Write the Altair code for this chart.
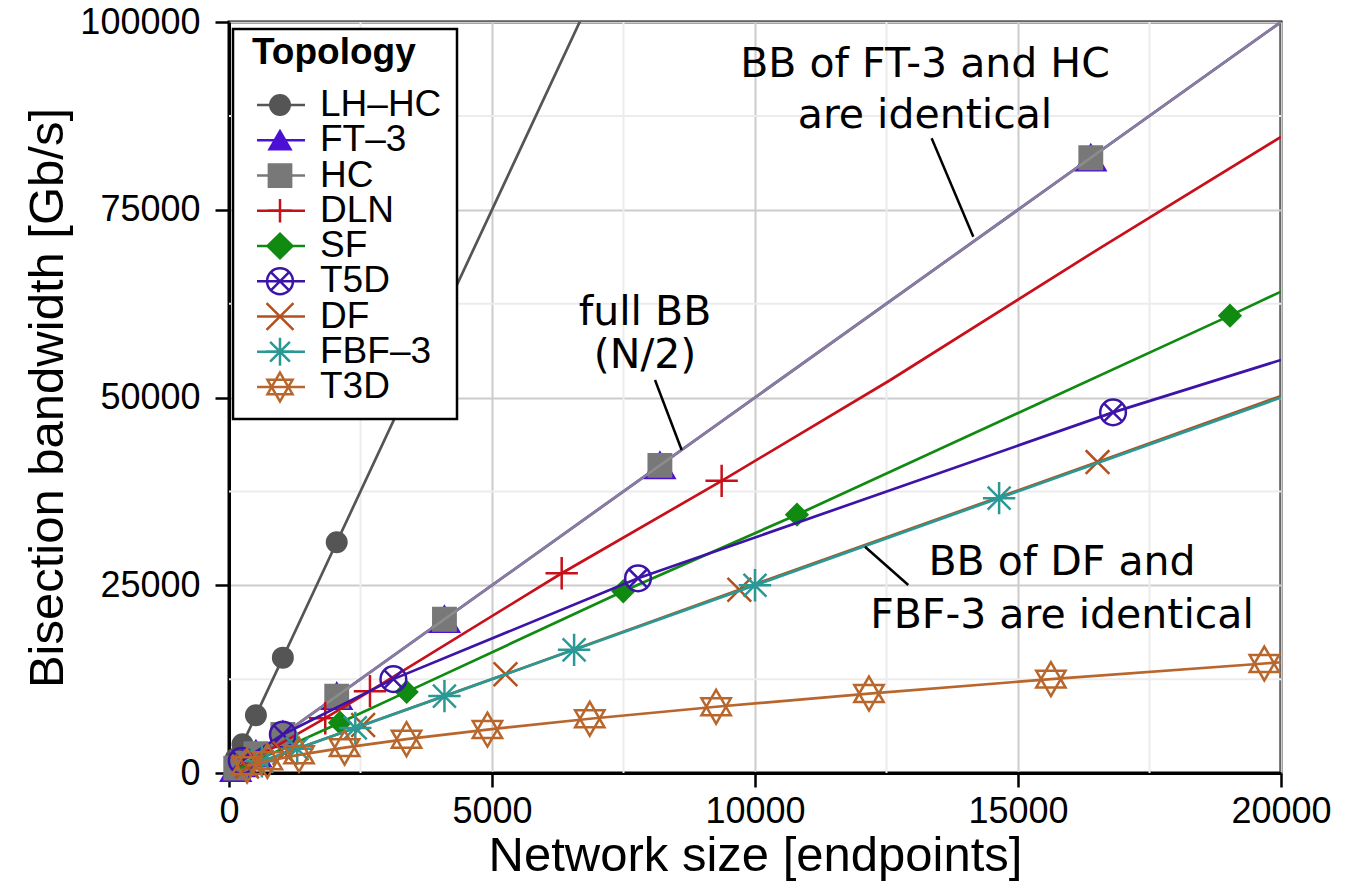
import altair as alt
import pandas as pd

# ---------------- data ----------------
names = ["LH–HC", "FT–3", "HC", "DLN", "SF", "T5D", "DF", "FBF–3", "T3D"]
colors = ["#555555", "#4b10d3", "#787878", "#c8101a", "#108a10",
          "#3c14a8", "#b4501c", "#2a9995", "#b8662c"]

# markers: network size [endpoints], bisection bandwidth [Gb/s]
lhhc_n = [128, 256, 512, 1024, 2048]
lhhc_bb = [1920, 3840, 7680, 15360, 30720]
ft3_n = [128, 256, 512, 1024, 2048, 4096, 8192, 16384]
ft3_bb = [640, 1280, 2560, 5120, 10240, 20480, 40960, 81920]
hc_n = [128, 256, 512, 1024, 2048, 4096, 8192, 16384]
hc_bb = [640, 1280, 2560, 5120, 10240, 20480, 40960, 81920]
dln_n = [1830, 2680, 6325, 9366]
dln_bb = [7300, 10900, 26600, 38900]
sf_n = [2110, 3378, 7496, 10798, 19030]
sf_bb = [6700, 10800, 24200, 34400, 60900]
t5d_n = [243, 1024, 3125, 7776, 16807]
t5d_bb = [1620, 5120, 12500, 25920, 48020]
df_n = [342, 1056, 2550, 5256, 9702, 16512]
df_bb = [860, 2640, 6400, 13150, 24400, 41400]
fbf_n = [625, 1296, 2401, 4096, 6561, 10000, 14641]
fbf_bb = [1560, 3240, 6000, 10240, 16400, 25000, 36600]
t3d_n = [343, 729, 1331, 2197, 3375, 4913, 6859, 9261, 12167, 15625, 19683]
t3d_bb = [980, 1620, 2420, 3380, 4500, 5780, 7220, 8820, 10580, 12500, 14580]

# fitted curves drawn through the whole range
lhhc_line_n = [0, 2048, 8192]
lhhc_line_bb = [0, 30720, 122880]
ft3_line_n = [64, 20000]
ft3_line_bb = [320, 100000]
hc_line_n = [64, 20000]
hc_line_bb = [320, 100000]
dln_line_n = [200, 1830, 2680, 6325, 9366, 12566, 16558, 20000]
dln_line_bb = [800, 7300, 10900, 26600, 38900, 52300, 69900, 84700]
sf_line_n = [200, 2110, 3378, 7496, 10798, 19030, 20000]
sf_line_bb = [640, 6700, 10800, 24200, 34400, 60900, 64100]
t5d_line_n = [243, 1024, 3125, 7776, 16807, 20000]
t5d_line_bb = [1620, 5120, 12500, 25920, 48020, 55000]
df_line_n = [342, 1056, 2550, 5256, 9702, 16512, 20000]
df_line_bb = [860, 2640, 6400, 13150, 24400, 41400, 50200]
fbf_line_n = [625, 20000]
fbf_line_bb = [1560, 50000]
t3d_line_n = [343, 729, 1331, 2197, 3375, 4913, 6859, 9261, 12167, 15625, 19683, 20000]
t3d_line_bb = [980, 1620, 2420, 3380, 4500, 5780, 7220, 8820, 10580, 12500, 14580, 14750]

x_ticks = [0, 5000, 10000, 15000, 20000]
y_ticks = [0, 25000, 50000, 75000, 100000]
x_minor = [2500, 7500, 12500, 17500]
y_minor = [12500, 37500, 62500, 87500]

annot_text = ["BB of FT-3 and HC", "are identical", "full BB", "(N/2)",
              "BB of DF and", "FBF-3 are identical"]
annot_n = [13232, 13232, 7909, 7909, 15836, 15836]
annot_bb = [92677, 85819, 59654, 53930, 26365, 19308]
leader_n = [13358, 8099, 12091]
leader_bb = [84512, 52330, 30133]
leader_n2 = [14150, 8606, 12914]
leader_bb2 = [71413, 43010, 25033]

# ---------------- styles ----------------
PLUS = "M-1,0L1,0M0,-1L0,1"
CIRCLE_X = ("M-1,0A1,1,0,1,1,1,0A1,1,0,1,1,-1,0Z"
            "M-0.7071,-0.7071L0.7071,0.7071M-0.7071,0.7071L0.7071,-0.7071")
CROSS_X = "M-1,-1L1,1M-1,1L1,-1"
ASTER = ("M-1,0L1,0M0,-1L0,1"
         "M-0.7071,-0.7071L0.7071,0.7071M-0.7071,0.7071L0.7071,-0.7071")
STAR6 = "M0,-1L0.866,0.5L-0.866,0.5Z M0,1L0.866,-0.5L-0.866,-0.5Z"

shapes = ["circle", "triangle-up", "square", PLUS, "diamond", CIRCLE_X, CROSS_X, ASTER, STAR6]
filled = [True, True, True, False, True, False, False, False, False]
sizes = [380, 840, 500, 1050, 430, 660, 560, 1050, 1150]
fills = [c if f else "transparent" for c, f in zip(colors, filled)]
line_colors = list(colors)
line_colors[2] = "#8e8e8e"
legend_line_colors = list(colors)

marker_data = [(lhhc_n, lhhc_bb), (ft3_n, ft3_bb), (hc_n, hc_bb), (dln_n, dln_bb),
               (sf_n, sf_bb), (t5d_n, t5d_bb), (df_n, df_bb), (fbf_n, fbf_bb), (t3d_n, t3d_bb)]
line_data = [(lhhc_line_n, lhhc_line_bb), (ft3_line_n, ft3_line_bb), (hc_line_n, hc_line_bb),
             (dln_line_n, dln_line_bb), (sf_line_n, sf_line_bb), (t5d_line_n, t5d_line_bb),
             (df_line_n, df_line_bb), (fbf_line_n, fbf_line_bb), (t3d_line_n, t3d_line_bb)]

W, H = 1052, 751

X = alt.X("n:Q", title="Network size [endpoints]",
          scale=alt.Scale(domain=[0, 20000], nice=False, zero=False),
          axis=alt.Axis(values=x_ticks, format="d", grid=True))
Y = alt.Y("bb:Q", title="Bisection bandwidth [Gb/s]",
          scale=alt.Scale(domain=[0, 100000], nice=False, zero=False),
          axis=alt.Axis(values=y_ticks, format="d", grid=True, titlePadding=7))

layers = []
layers.append(alt.Chart(pd.DataFrame({"n": x_minor})).mark_rule(
    color="#ececec", strokeWidth=2).encode(x=X))
layers.append(alt.Chart(pd.DataFrame({"bb": y_minor})).mark_rule(
    color="#ececec", strokeWidth=2).encode(y=Y))

for i, name in enumerate(names):
    mn, mb = marker_data[i]
    ln, lb = line_data[i]
    pdf = pd.DataFrame({"n": mn, "bb": mb})
    ldf = pd.DataFrame({"n": ln, "bb": lb})
    layers.append(alt.Chart(pdf).mark_point(
        shape=shapes[i], size=sizes[i], filled=True, fill=fills[i],
        stroke=colors[i], strokeWidth=2.5, opacity=1).encode(x=X, y=Y))
    layers.append(alt.Chart(ldf).mark_line(
        color=line_colors[i], strokeWidth=2.7, clip=True,
        opacity=0.88 if i == 2 else 1).encode(x=X, y=Y))

ann_df = pd.DataFrame({"n": annot_n, "bb": annot_bb, "t": annot_text})
layers.append(alt.Chart(ann_df).mark_text(
    font="DejaVu Sans", fontSize=41, align="center", baseline="alphabetic",
    color="black").encode(x=X, y=Y, text="t:N"))
lead_df = pd.DataFrame({"n": leader_n, "bb": leader_bb, "n2": leader_n2, "bb2": leader_bb2})
layers.append(alt.Chart(lead_df).mark_rule(color="black", strokeWidth=2.5).encode(
    x=X, y=Y, x2="n2:Q", y2="bb2:Q"))

main = alt.layer(*layers)

# ---------------- legend ----------------
leg_df = pd.DataFrame({"name": names, "row": list(range(len(names)))})
LY = alt.Y("row:Q", scale=alt.Scale(domain=[0, len(names) - 1], range=[83, 365]), axis=None)
one = pd.DataFrame({"a": [0]})
box = alt.Chart(one).mark_rect(fill="white", stroke="black", strokeWidth=2.5).encode(
    x=alt.value(4), x2=alt.value(228), y=alt.value(7), y2=alt.value(397))
ltitle = alt.Chart(one).mark_text(
    text="Topology", font="Liberation Sans", fontWeight="bold", fontSize=37,
    align="left", baseline="alphabetic", color="black").encode(x=alt.value(23), y=alt.value(42))
seg = alt.Chart(leg_df).mark_rule(strokeWidth=2.7).encode(
    x=alt.value(28), x2=alt.value(76), y=LY,
    color=alt.Color("name:N", scale=alt.Scale(domain=names, range=legend_line_colors), legend=None))
sym = alt.Chart(leg_df).mark_point(filled=True, strokeWidth=2.5, opacity=1).encode(
    x=alt.value(51), y=LY,
    shape=alt.Shape("name:N", scale=alt.Scale(domain=names, range=shapes), legend=None),
    fill=alt.Fill("name:N", scale=alt.Scale(domain=names, range=fills), legend=None),
    stroke=alt.Stroke("name:N", scale=alt.Scale(domain=names, range=colors), legend=None),
    size=alt.Size("name:N", scale=alt.Scale(domain=names, range=sizes), legend=None))
lab = alt.Chart(leg_df).mark_text(
    font="Liberation Sans", fontSize=37, align="left", baseline="middle", color="black").encode(
    x=alt.value(91), y=LY, text="name:N")
legend = alt.layer(box, ltitle, seg, sym, lab)

chart = alt.layer(main, legend).resolve_scale(
    y="independent", color="independent", shape="independent",
    fill="independent", stroke="independent", size="independent"
).properties(
    width=W, height=H,
    autosize=alt.AutoSizeParams(type="none"),
    padding={"left": 229, "top": 22, "right": 74, "bottom": 113},
    background="white",
).configure_view(stroke="black", strokeWidth=3).configure_axis(
    domainColor="black", domainWidth=3, tickColor="black", tickWidth=2.5, tickSize=14,
    labelFont="Liberation Sans", labelFontSize=36, labelColor="black",
    labelFlush=False, labelOverlap=False, labelBound=False,
    titleFont="Liberation Sans", titleFontSize=49, titleFontWeight="normal", titleColor="black",
    gridColor="#cccccc", gridWidth=2,
).configure_axisX(labelPadding=7, titlePadding=2).configure_axisY(labelPadding=15)

chart.save("out.html", embed_options={"renderer": "svg", "actions": False})
